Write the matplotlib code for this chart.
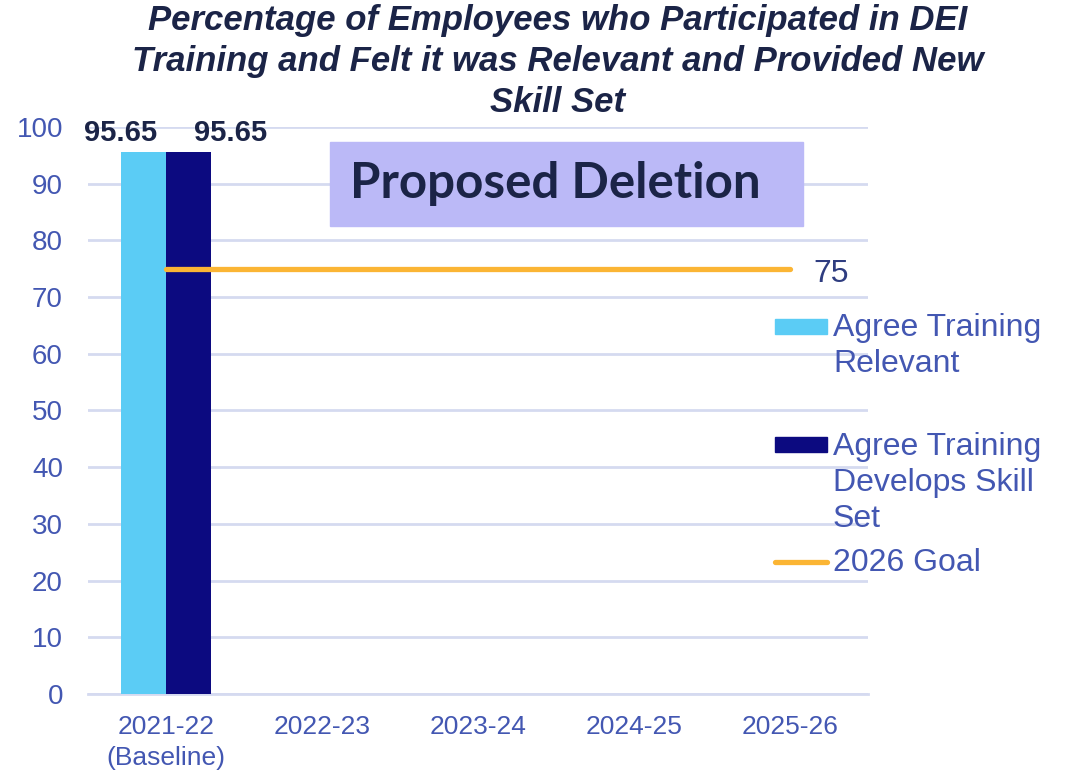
import matplotlib.pyplot as plt
from matplotlib.patches import Rectangle
from matplotlib.lines import Line2D

years = ['2021-22\n(Baseline)', '2022-23', '2023-24', '2024-25', '2025-26']
relevant = [95.65, None, None, None, None]
skill_set = [95.65, None, None, None, None]
goal = 75
goal_span = [0, 4]

c_light = '#5BCCF5'
c_dark = '#0C0A80'
c_goal = '#FBB534'
c_text = '#4357B2'
c_navy = '#1B2447'
c_grid = '#D5DAF0'

plt.rcParams['font.family'] = ['Liberation Sans', 'DejaVu Sans']

fig = plt.figure(figsize=(10.69, 7.70), dpi=100)
ax = fig.add_axes([0.0823, 0.0987, 0.7297, 0.7364])

w = 0.288
x = list(range(len(years)))
for i in x:
    if relevant[i] is not None:
        ax.bar(i - w / 2, relevant[i], w, color=c_light, zorder=3)
        ax.annotate(f'{relevant[i]:.2f}', xy=(i, relevant[i]), xytext=(-6.5, 3),
                    textcoords='offset points', ha='right', va='bottom',
                    fontsize=21, fontweight='bold', color=c_navy)
    if skill_set[i] is not None:
        ax.bar(i + w / 2, skill_set[i], w, color=c_dark, zorder=3)
        ax.annotate(f'{skill_set[i]:.2f}', xy=(i, skill_set[i]), xytext=(20, 3),
                    textcoords='offset points', ha='left', va='bottom',
                    fontsize=21, fontweight='bold', color=c_navy)

ax.plot(goal_span, [goal, goal], color=c_goal, lw=3.8, solid_capstyle='round', zorder=4)
ax.annotate(str(goal), xy=(goal_span[1], goal), xytext=(17, -4), textcoords='offset points',
            ha='left', va='center', fontsize=23, color='#2F3D80')

ax.set_xlim(-0.5, 4.5)
ax.set_ylim(0, 100)
ax.set_yticks(range(0, 101, 10))
ax.set_xticks(x)
ax.set_xticklabels(years, linespacing=1.4)
ax.grid(axis='y', color=c_grid, lw=2, zorder=0)
for s in ['top', 'right', 'left']:
    ax.spines[s].set_visible(False)
ax.spines['bottom'].set_color(c_grid)
ax.spines['bottom'].set_linewidth(2)
ax.tick_params(axis='y', length=0, pad=18, labelsize=20, labelcolor=c_text)
ax.tick_params(axis='x', length=0, pad=15, labelsize=19, labelcolor=c_text)

# title
fig.text(0.522, 0.995, 'Percentage of Employees who Participated in DEI\n'
         'Training and Felt it was Relevant and Provided New\nSkill Set',
         ha='center', va='top', fontsize=25, fontweight='bold', fontstyle='italic',
         color=c_navy, linespacing=1.31)

# "Proposed Deletion" banner
W, H = 1069, 770
fig.patches.append(Rectangle((330 / W, 1 - 226 / H), 473 / W, 84 / H,
                             transform=fig.transFigure, color='#BBB9F7', zorder=5))
fig.text(555 / W, 1 - 184 / H, 'Proposed Deletion', ha='center', va='center',
         fontsize=35.5, fontweight='bold', family=['Lato', 'DejaVu Sans'],
         color=c_navy, zorder=6)

# legend
fig.patches.append(Rectangle((775 / W, 1 - 334 / H), 52 / W, 15 / H,
                             transform=fig.transFigure, color=c_light))
fig.patches.append(Rectangle((775 / W, 1 - 452 / H), 52 / W, 15 / H,
                             transform=fig.transFigure, color=c_dark))
fig.lines.append(Line2D([775 / W, 827 / W], [1 - 562 / H, 1 - 562 / H],
                        transform=fig.transFigure, color=c_goal, lw=3.8,
                        solid_capstyle='round'))
leg_kw = dict(ha='left', va='top', fontsize=23, color=c_text, linespacing=1.27)
fig.text(833 / W, 1 - 313 / H, 'Agree Training\nRelevant', **leg_kw)
fig.text(833 / W, 1 - 432 / H, 'Agree Training\nDevelops Skill\nSet', **leg_kw)
fig.text(833 / W, 1 - 548 / H, '2026 Goal', **leg_kw)

fig.savefig('out.png', dpi=100)
